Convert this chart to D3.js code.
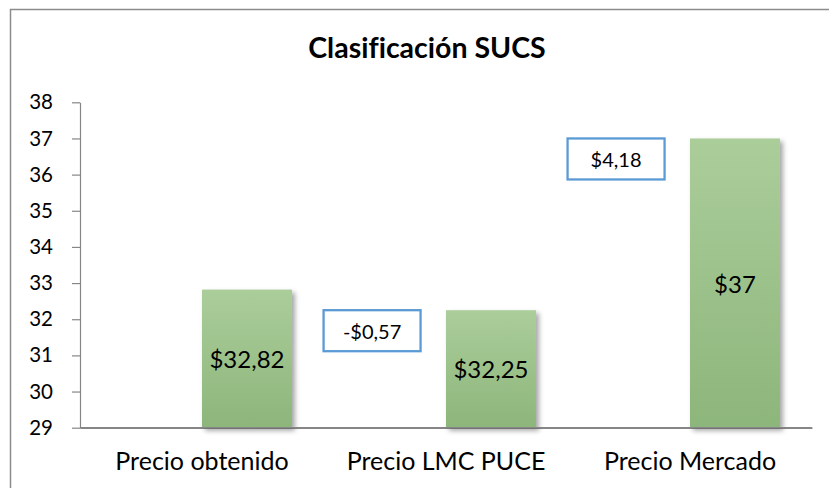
<!DOCTYPE html>
<html>
<head>
<meta charset="utf-8">
<script src="https://cdn.jsdelivr.net/npm/d3@7"></script>
<style>
  html, body { margin: 0; padding: 0; background: #ffffff; }
  svg { display: block; }
  text { font-family: Lato, "Open Sans", sans-serif; fill: #000; font-variant-ligatures: none; font-feature-settings: "liga" 0; }
</style>
</head>
<body>
<div id="chart"></div>
<script>
// ---- data ----
const title = "Clasificación SUCS";
const categories = ["Precio obtenido", "Precio LMC PUCE", "Precio Mercado"];
const prices = [32.82, 32.25, 37];
const priceLabels = ["$32,82", "$32,25", "$37"];
const diffLabels = [null, "-$0,57", "$4,18"];
const yTicks = [29, 30, 31, 32, 33, 34, 35, 36, 37, 38];
const yDomain = [29, 38];

// ---- layout ----
const W = 829, H = 488;
const plot = { left: 80, right: 812, top: 102.3, bottom: 427.7 };

const svg = d3.select("#chart").append("svg")
  .attr("width", W).attr("height", H);

const defs = svg.append("defs");
const grad = defs.append("linearGradient")
  .attr("id", "barGrad").attr("x1", 0).attr("y1", 0).attr("x2", 0).attr("y2", 1);
grad.append("stop").attr("offset", "0%").attr("stop-color", "#abcd9a");
grad.append("stop").attr("offset", "100%").attr("stop-color", "#8db67b");

const shadow = defs.append("filter").attr("id", "shadow")
  .attr("x", "-20%").attr("y", "-10%").attr("width", "150%").attr("height", "130%");
shadow.append("feDropShadow")
  .attr("dx", 3).attr("dy", 3).attr("stdDeviation", 2.5)
  .attr("flood-color", "#000").attr("flood-opacity", 0.35);

// outer frame
svg.append("rect")
  .attr("x", 10.5).attr("y", 9.5)
  .attr("width", W + 20).attr("height", H + 20)
  .attr("fill", "#fff").attr("stroke", "#8c8c8c").attr("stroke-width", 1.5);

// title
svg.append("text")
  .attr("x", 427).attr("y", 57.5)
  .attr("text-anchor", "middle")
  .style("font-weight", "bold").style("font-size", "28.5px")
  .text(title);

// scales
const x = d3.scaleBand().domain(categories).range([plot.left, plot.right])
  .paddingInner(0).paddingOuter(0);
const x1 = d3.scaleBand().domain(["diff", "price"]).range([0, x.bandwidth()])
  .paddingInner(0).paddingOuter(0.356);
const y = d3.scaleLinear().domain(yDomain).range([plot.bottom, plot.top]);

// y axis
const yAxis = d3.axisLeft(y).tickValues(yTicks).tickSizeOuter(0).tickSizeInner(8).tickPadding(19)
  .tickFormat(d3.format("d"));
const gy = svg.append("g").attr("transform", `translate(${plot.left},0)`).call(yAxis);
gy.select(".domain").attr("stroke", "#868686").attr("stroke-width", 1.2);
gy.selectAll(".tick line").attr("stroke", "#868686").attr("stroke-width", 1.2);
gy.selectAll(".tick text").style("font-size", "20.5px").attr("fill", "#000")
  .style("font-family", "Lato, sans-serif");

// x axis
const xAxis = d3.axisBottom(x).tickSize(0).tickPadding(25);
const gx = svg.append("g").attr("transform", `translate(0,${plot.bottom})`).call(xAxis);
gx.select(".domain").attr("stroke", "#868686").attr("stroke-width", 1.5);
gx.selectAll(".tick text").style("font-size", "25px").attr("fill", "#000")
  .style("font-family", "Lato, sans-serif");

// bars
const bars = svg.append("g");
bars.selectAll("rect").data(prices).join("rect")
  .attr("x", (d, i) => x(categories[i]) + x1("price"))
  .attr("y", d => y(d))
  .attr("width", x1.bandwidth())
  .attr("height", d => y(yDomain[0]) - y(d))
  .attr("fill", "url(#barGrad)")
  .attr("filter", "url(#shadow)");

// redraw x axis line above shadows
svg.append("line")
  .attr("x1", plot.left).attr("x2", plot.right)
  .attr("y1", plot.bottom).attr("y2", plot.bottom)
  .attr("stroke", "#868686").attr("stroke-width", 1.5);

// value labels
svg.append("g").selectAll("text").data(prices).join("text")
  .attr("x", (d, i) => x(categories[i]) + x1("price") + x1.bandwidth() / 2)
  .attr("y", d => (y(d) + y(yDomain[0])) / 2)
  .attr("text-anchor", "middle").attr("dominant-baseline", "central")
  .style("font-size", "24px")
  .text((d, i) => priceLabels[i]);

// difference boxes
const boxW = 97, boxH = 41;
const diffs = diffLabels.map((l, i) => ({ l, i })).filter(d => d.l);
const boxes = svg.append("g").selectAll("g").data(diffs).join("g")
  .attr("transform", d => `translate(${x(categories[d.i]) + x.bandwidth() * 0.197 - boxW / 2},${y(prices[d.i])})`);
boxes.append("rect")
  .attr("width", boxW).attr("height", boxH)
  .attr("fill", "#fff").attr("stroke", "#5b9bd5").attr("stroke-width", 2.3);
boxes.append("text")
  .attr("x", boxW / 2).attr("y", boxH / 2)
  .attr("text-anchor", "middle").attr("dominant-baseline", "central")
  .style("font-size", "20px")
  .text(d => d.l);
</script>
</body>
</html>
